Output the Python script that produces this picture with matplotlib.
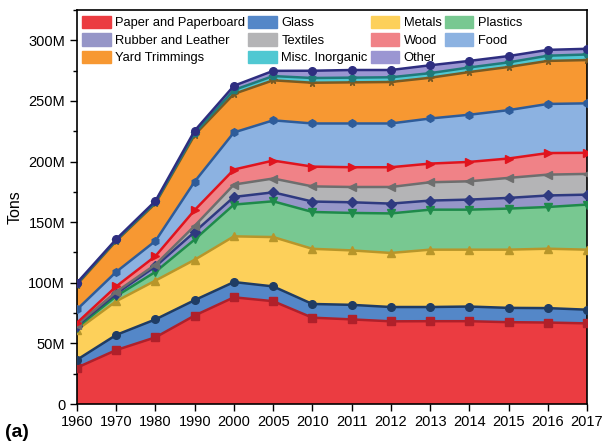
import matplotlib
matplotlib.use("Agg")
import matplotlib.pyplot as plt
import numpy as np
from matplotlib.ticker import FuncFormatter, MultipleLocator
from matplotlib.patches import Patch

plt.rcParams['font.family'] = ['Liberation Sans', 'DejaVu Sans']

years = ['1960', '1970', '1980', '1990', '2000', '2005', '2010',
         '2011', '2012', '2013', '2014', '2015', '2016', '2017']

# generation by material, millions of tons
paper    = [30.0, 44.5, 55.0, 73.0, 88.0, 84.8, 71.2, 69.8, 68.2, 68.3, 68.3, 67.5, 67.2, 66.5]
glass    = [6.5, 12.5, 14.8, 12.7, 12.6, 12.2, 11.3, 12.0, 11.8, 11.7, 12.1, 11.8, 11.9, 11.3]
metals   = [24.5, 27.8, 32.0, 33.3, 37.7, 40.7, 45.5, 44.9, 44.6, 47.3, 46.9, 48.0, 49.0, 49.5]
plastics = [2.0, 4.2, 7.2, 16.7, 26.2, 29.5, 30.4, 30.9, 32.6, 33.0, 33.0, 33.9, 34.4, 37.2]
rubber   = [1.5, 2.0, 4.5, 6.3, 6.3, 7.4, 8.6, 8.8, 8.1, 7.5, 8.3, 8.8, 9.5, 8.2]
textiles = [1.0, 1.5, 1.5, 5.0, 10.2, 11.4, 12.5, 12.6, 13.7, 15.1, 15.1, 16.5, 17.2, 17.1]
wood     = [1.5, 4.5, 7.0, 13.0, 12.4, 14.8, 16.3, 16.3, 16.3, 15.4, 16.0, 16.0, 17.8, 17.4]
food     = [11.0, 12.0, 12.5, 23.5, 30.6, 33.2, 35.6, 36.1, 36.1, 37.2, 38.9, 39.9, 40.5, 40.8]
yard     = [20.5, 25.5, 31.0, 38.5, 31.8, 33.0, 33.6, 33.9, 34.2, 33.6, 35.2, 35.6, 35.5, 35.7]
misc     = [0.7, 0.7, 0.8, 1.5, 3.2, 3.5, 3.9, 3.9, 3.9, 3.8, 3.8, 3.8, 4.3, 4.6]
other    = [0.8, 0.8, 1.2, 2.0, 3.5, 4.3, 6.0, 6.3, 6.0, 6.5, 5.4, 5.2, 4.8, 4.7]

names = ['Paper and Paperboard', 'Glass', 'Metals', 'Plastics',
         'Rubber and Leather', 'Textiles', 'Wood', 'Food',
         'Yard Trimmings', 'Misc. Inorganic', 'Other']
series = [paper, glass, metals, plastics, rubber, textiles, wood, food,
          yard, misc, other]

fills = ['#EB3C41', '#5487C8', '#FDD05A', '#78C891', '#9696C8', '#B4B4B6',
         '#F08287', '#8CB2E1', '#F79832', '#50C8D2', '#9B96D2']
lines = ['#B0202A', '#1F3C64', '#B8962A', '#1E8A4A', '#2F3A80', '#6E6E6E',
         '#E0141E', '#2E5C9A', '#7A5A22', '#1F7A7A', '#2E2E80']
marks = ['s', 'o', '^', 'v', 'D', '<', '>', 'h', '*', 'p', 'o']

fig = plt.figure(figsize=(6.03, 4.48), dpi=100)
ax = fig.add_axes([0.1277, 0.0982, 0.8458, 0.8795])

x = np.arange(len(years))
ax.stackplot(x, *series, colors=fills, linewidth=0)

tops = np.cumsum(np.array(series), axis=0)
for top, lc, mk in zip(tops, lines, marks):
    ax.plot(x, top, color=lc, lw=1.8, marker=mk, ms=5.5, mec=lc, mfc=lc, zorder=3)

ax.set_xlim(0, len(years) - 1)
ax.set_ylim(0, 325)
ax.set_xticks(x)
ax.set_xticklabels(years, fontsize=10.5,
                   family=['Liberation Sans Narrow', 'Liberation Sans'])
ax.yaxis.set_major_locator(MultipleLocator(50))
ax.yaxis.set_minor_locator(MultipleLocator(25))
ax.yaxis.set_major_formatter(FuncFormatter(lambda v, p: '0' if v == 0 else f'{int(v)}M'))
ax.tick_params(axis='y', labelsize=10.5, direction='out', length=5, width=1)
ax.tick_params(axis='y', which='minor', direction='out', length=3, width=1)
ax.tick_params(axis='x', direction='out', length=5, width=1, pad=3)
for s in ax.spines.values():
    s.set_linewidth(1.2)
ax.set_ylabel('Tons', fontsize=11.5, labelpad=4)

handles = [Patch(facecolor=f, edgecolor=f, label=n) for f, n in zip(fills, names)]
order = [0, 4, 8, 1, 5, 9, 2, 6, 10, 3, 7]
ax.legend([handles[i] for i in order], [names[i] for i in order],
          ncol=4, loc='upper left', bbox_to_anchor=(0.01, 0.985),
          frameon=False, fontsize=9.3, handlelength=2.2, handleheight=1.1,
          handletextpad=0.35, columnspacing=0.25, labelspacing=0.3,
          borderpad=0, borderaxespad=0)

fig.text(0.008, 0.025, '(a)', fontsize=14, fontweight='bold')

fig.savefig('out.png', dpi=100)
